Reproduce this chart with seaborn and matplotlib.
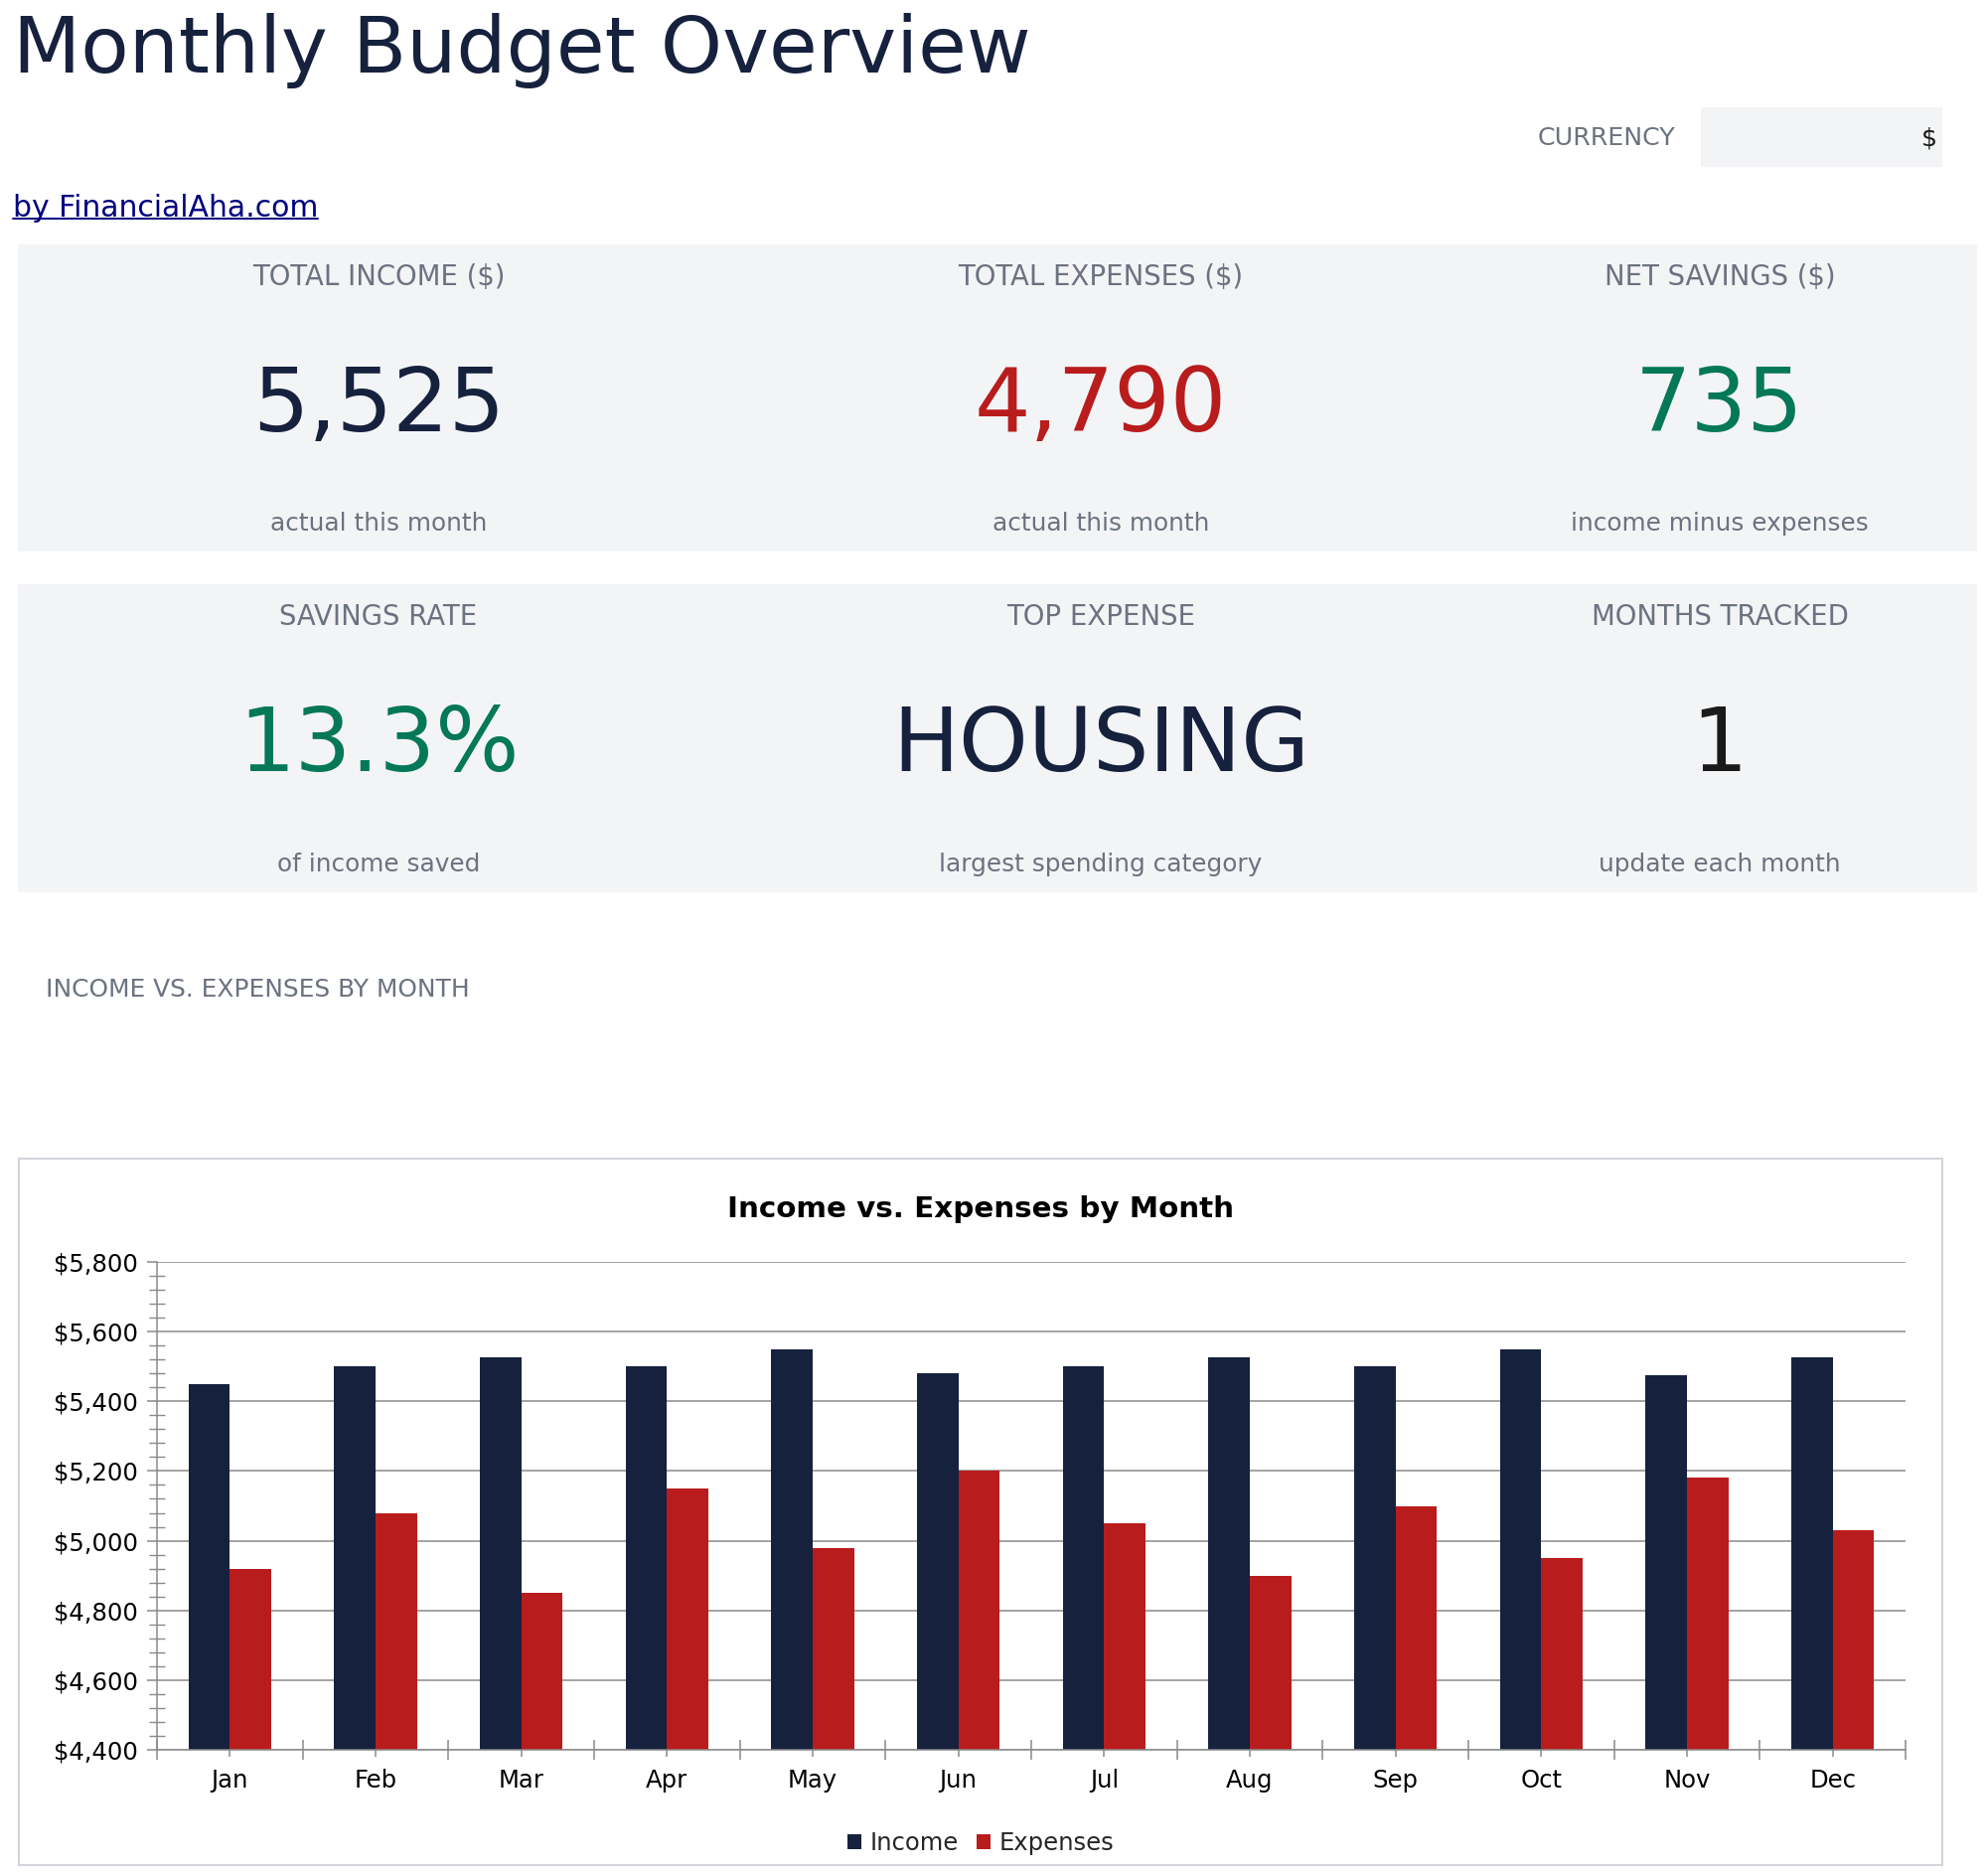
import numpy as np
import pandas as pd
import matplotlib
matplotlib.use("Agg")
import matplotlib.pyplot as plt
import seaborn as sns
from matplotlib.patches import Rectangle
from matplotlib.lines import Line2D
from matplotlib.ticker import StrMethodFormatter, MultipleLocator, FixedLocator

# ---------------- data ----------------
months = ["Jan", "Feb", "Mar", "Apr", "May", "Jun", "Jul", "Aug", "Sep", "Oct", "Nov", "Dec"]
income = [5450, 5500, 5525, 5500, 5550, 5480, 5500, 5525, 5500, 5550, 5475, 5525]
expenses = [4920, 5080, 4850, 5150, 4980, 5200, 5050, 4900, 5100, 4950, 5180, 5030]
series_names = ["Income", "Expenses"]

kpi_labels = ["TOTAL INCOME ($)", "TOTAL EXPENSES ($)", "NET SAVINGS ($)",
              "SAVINGS RATE", "TOP EXPENSE", "MONTHS TRACKED"]
kpi_values = ["5,525", "4,790", "735", "13.3%", "HOUSING", "1"]
kpi_notes = ["actual this month", "actual this month", "income minus expenses",
             "of income saved", "largest spending category", "update each month"]

# ---------------- style ----------------
NAVY = "#16213e"
RED = "#b91c1c"
GREEN = "#047857"
GRAY = "#6b7280"
PANEL = "#f3f4f6"
AXGRAY = "#8a8a8a"
kpi_colors = [NAVY, RED, GREEN, GREEN, NAVY, "#1a1a1a"]

sns.set_style("white")
plt.rcParams["font.family"] = ["DejaVu Sans"]

W, H = 2000, 1888
fig = plt.figure(figsize=(W / 100, H / 100), dpi=100)
fig.patch.set_facecolor("white")


def fx(x):
    return x / W


def fy(y):
    return 1 - y / H


def rect(x0, y0, x1, y1, **kw):
    r = Rectangle((fx(x0), fy(y1)), fx(x1) - fx(x0), fy(y0) - fy(y1),
                  transform=fig.transFigure, zorder=-2, **kw)
    fig.add_artist(r)
    return r


# ---------------- header ----------------
fig.text(fx(13), fy(73), "Monthly Budget Overview", fontsize=57, color=NAVY,
         ha="left", va="baseline")
link = fig.text(fx(13), fy(218), "by FinancialAha.com", fontsize=21.5, color="#000080",
                ha="left", va="baseline")

fig.text(fx(1686), fy(146), "CURRENCY", fontsize=18.2, color=GRAY, ha="right", va="baseline")
rect(1712, 108, 1955, 168, facecolor=PANEL, edgecolor="none")
fig.text(fx(1950), fy(146), "$", fontsize=18, color="#1a1a1a", ha="right", va="baseline")

# ---------------- KPI panels ----------------
rect(18, 246, 1990, 555, facecolor=PANEL, edgecolor="none")
rect(18, 588, 1990, 898, facecolor=PANEL, edgecolor="none")

col_x = [381, 1108, 1731]
rows = [(287, 434, 534), (629, 776, 877)]
for i in range(6):
    r, c = divmod(i, 3)
    yl, yv, yn = rows[r]
    fig.text(fx(col_x[c]), fy(yl), kpi_labels[i], fontsize=19.8, color=GRAY,
             ha="center", va="baseline")
    fig.text(fx(col_x[c]), fy(yv), kpi_values[i], fontsize=64, color=kpi_colors[i],
             ha="center", va="baseline")
    fig.text(fx(col_x[c]), fy(yn), kpi_notes[i], fontsize=17.8, color=GRAY,
             ha="center", va="baseline")

fig.text(fx(46), fy(1003), "INCOME VS. EXPENSES BY MONTH", fontsize=17.9, color=GRAY,
         ha="left", va="baseline")

# ---------------- chart ----------------
rect(19, 1166, 1955, 1877, facecolor="white", edgecolor="#d1d5db", linewidth=1.5)
fig.text(fx(987), fy(1225), "Income vs. Expenses by Month", fontsize=21.2,
         fontweight="bold", color="black", ha="center", va="baseline")

ax_l, ax_r, ax_t, ax_b = 158, 1918, 1270, 1761
ax = fig.add_axes([fx(ax_l), fy(ax_b), fx(ax_r) - fx(ax_l), fy(ax_t) - fy(ax_b)])
ax.set_facecolor("none")

df = pd.DataFrame({
    "Month": months * 2,
    "Type": [series_names[0]] * len(months) + [series_names[1]] * len(months),
    "Value": income + expenses,
})
sns.barplot(data=df, x="Month", y="Value", hue="Type", order=months,
            hue_order=series_names, palette=[NAVY, RED], width=0.57,
            saturation=1, linewidth=0, ax=ax)

ax.set_ylim(4400, 5800)
ax.set_xlim(-0.5, len(months) - 0.5)
ax.set_xlabel("")
ax.set_ylabel("")
ax.yaxis.set_major_locator(MultipleLocator(200))
ax.yaxis.set_minor_locator(MultipleLocator(40))
ax.yaxis.set_major_formatter(StrMethodFormatter("${x:,.0f}"))
ax.xaxis.set_minor_locator(FixedLocator(np.arange(-0.5, len(months), 1.0)))

ax.set_axisbelow(True)
ax.grid(axis="y", which="major", color=AXGRAY, linewidth=1.1)
ax.grid(axis="x", visible=False)
for s in ["top", "right"]:
    ax.spines[s].set_visible(False)
for s in ["left", "bottom"]:
    ax.spines[s].set_color(AXGRAY)
    ax.spines[s].set_linewidth(1.1)

ax.tick_params(axis="y", which="major", direction="out", length=7, width=1.1,
               color=AXGRAY, labelsize=17.5, labelcolor="black", pad=6.5, left=True)
ax.tick_params(axis="y", which="minor", direction="inout", length=12, width=1.0,
               color=AXGRAY, left=True)
ax.tick_params(axis="x", which="major", direction="out", length=5, width=1.1,
               color=AXGRAY, labelsize=17.5, labelcolor="black", pad=8.5, bottom=True)
ax.tick_params(axis="x", which="minor", direction="inout", length=14, width=1.1,
               color=AXGRAY, bottom=True)

handles, labels = ax.get_legend_handles_labels()
if ax.get_legend() is not None:
    ax.get_legend().remove()
fig.legend(handles, labels, loc="center", bbox_to_anchor=(fx(987), fy(1855)),
           ncol=2, frameon=False, fontsize=17.5, handlelength=0.6, handleheight=0.6,
           handletextpad=0.33, columnspacing=0.75)

# underline for the link text
fig.canvas.draw()
bb = link.get_window_extent(fig.canvas.get_renderer())
fig.add_artist(Line2D([bb.x0 / W, bb.x1 / W], [fy(220), fy(220)],
                      transform=fig.transFigure, color="#000080", linewidth=1.4))

fig.savefig("out.png", dpi=100, facecolor="white")
